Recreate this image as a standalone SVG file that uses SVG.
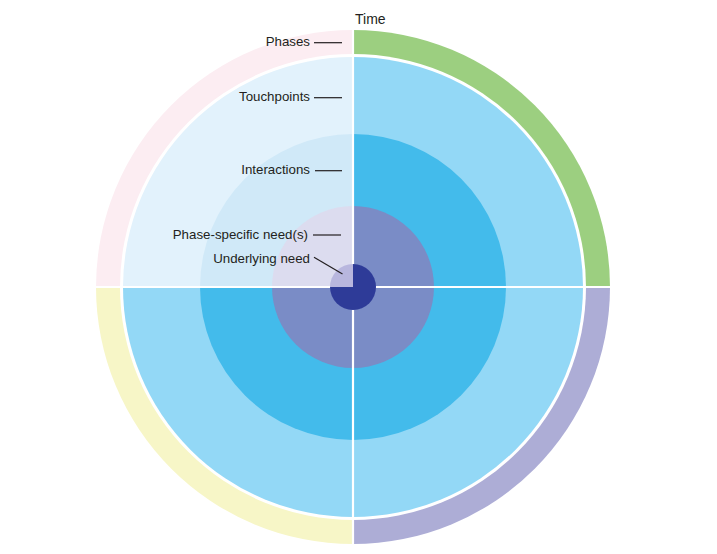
<svg xmlns="http://www.w3.org/2000/svg" width="717" height="554" viewBox="0 0 717 554">
<style>
.lbl{font-family:"Liberation Sans",Arial,sans-serif;font-size:13.3px;fill:#231f20;text-anchor:end}
.ttl{font-family:"Liberation Sans",Arial,sans-serif;font-size:14px;fill:#231f20}
.sep{stroke:#ffffff;stroke-width:2.2;fill:none}
.lead{stroke:#231f20;stroke-width:1.2;fill:none}
</style>
<rect width="717" height="554" fill="#ffffff"/>
<g id="phases">
<path d="M353,287 V30 A257,257 0 0 1 610,287 Z" fill="#9ccf80"/>
<path d="M353,287 H610 A257,257 0 0 1 353,544 Z" fill="#adadd6"/>
<path d="M353,287 V544 A257,257 0 0 1 96,287 Z" fill="#f7f6c7"/>
<path d="M353,287 H96 A257,257 0 0 1 353,30 Z" fill="#fcedf2"/>
<circle cx="353" cy="287" r="233" fill="#ffffff"/>
</g>
<g id="touchpoints">
<path d="M353,287 V57 A230,230 0 0 1 583,287 Z" fill="#93d8f6"/>
<path d="M353,287 H583 A230,230 0 0 1 353,517 Z" fill="#93d8f6"/>
<path d="M353,287 V517 A230,230 0 0 1 123,287 Z" fill="#93d8f6"/>
<path d="M353,287 H123 A230,230 0 0 1 353,57 Z" fill="#e2f2fc"/>
</g>
<g id="interactions">
<path d="M353,287 V134 A153,153 0 0 1 506,287 Z" fill="#43bbeb"/>
<path d="M353,287 H506 A153,153 0 0 1 353,440 Z" fill="#43bbeb"/>
<path d="M353,287 V440 A153,153 0 0 1 200,287 Z" fill="#43bbeb"/>
<path d="M353,287 H200 A153,153 0 0 1 353,134 Z" fill="#d0e9f8"/>
</g>
<g id="phase-specific-needs">
<path d="M353,287 V206 A81,81 0 0 1 434,287 Z" fill="#7a8cc6"/>
<path d="M353,287 H434 A81,81 0 0 1 353,368 Z" fill="#7a8cc6"/>
<path d="M353,287 V368 A81,81 0 0 1 272,287 Z" fill="#7a8cc6"/>
<path d="M353,287 H272 A81,81 0 0 1 353,206 Z" fill="#dcdcef"/>
</g>
<g id="separators">
<line class="sep" x1="353" y1="26" x2="353" y2="548"/>
<line class="sep" x1="92" y1="287" x2="614" y2="287"/>
</g>
<g id="underlying-need">
<path d="M353,287 V264 A23,23 0 0 1 376,287 Z" fill="#2e3b98"/>
<path d="M353,287 H376 A23,23 0 0 1 353,310 Z" fill="#2e3b98"/>
<path d="M353,287 V310 A23,23 0 0 1 330,287 Z" fill="#2e3b98"/>
<path d="M353,287 H330 A23,23 0 0 1 353,264 Z" fill="#b8b6de"/>
</g>
<g id="labels">
<text class="ttl" x="355" y="24">Time</text>
<text class="lbl" x="310" y="46">Phases</text>
<text class="lbl" x="310" y="101">Touchpoints</text>
<text class="lbl" x="310" y="174">Interactions</text>
<text class="lbl" x="308" y="239">Phase-specific need(s)</text>
<text class="lbl" x="310" y="263">Underlying need</text>
</g>
<g id="connectors">
<line class="lead" x1="314" y1="42.7" x2="342" y2="42.7"/>
<line class="lead" x1="314" y1="97.7" x2="342" y2="97.7"/>
<line class="lead" x1="315" y1="170.7" x2="342" y2="170.7"/>
<line class="lead" x1="313" y1="235" x2="341" y2="235"/>
<line class="lead" x1="314" y1="257.3" x2="342.5" y2="274"/>
</g>
</svg>
